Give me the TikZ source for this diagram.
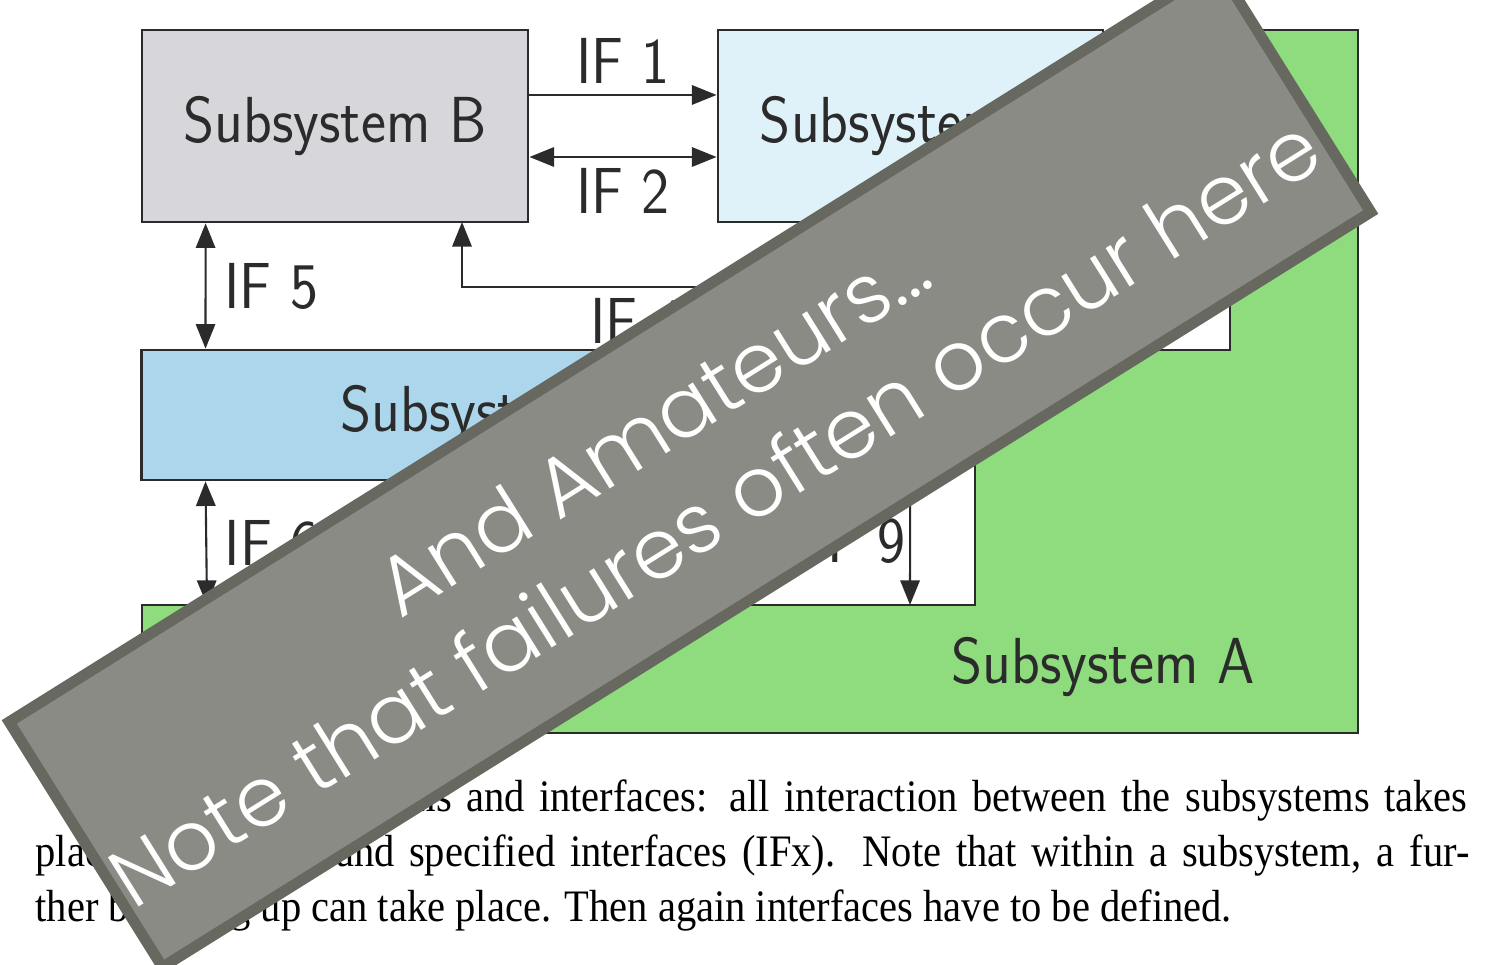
\documentclass[tikz,border=0pt]{standalone}
\usepackage{fontspec}
\usepackage{graphicx}
\newfontfamily\bannerfont{Poppins}[UprightFont={* Light}]
\newfontfamily\captionfont{Liberation Serif}
\definecolor{SubAgreen}{HTML}{8EDC7E}
\definecolor{SubBgray}{HTML}{D6D6DB}
\definecolor{SubCblue}{HTML}{DFF1F9}
\definecolor{SubDblue}{HTML}{ACD6EC}
\definecolor{BannerFill}{HTML}{8A8B85}
\definecolor{BannerEdge}{HTML}{67685F}
\definecolor{LineDark}{HTML}{2B2B2B}
\usetikzlibrary{arrows.meta}
\newcommand{\squeeze}[1]{\scalebox{0.915}[1]{#1}}
\newcommand{\capline}[2]{\scalebox{0.9}[1]{\makebox[#1][s]{#2}}}
\tikzset{
   subsys/.style={draw=LineDark, line width=0.75pt, text=LineDark,
      font=\sffamily\fontsize{18.5}{22}\selectfont},
   iface/.style={draw=LineDark, line width=0.6pt},
   iflabel/.style={text=LineDark, inner sep=3pt,
      font=\sffamily\fontsize{18.5}{22}\selectfont},
   captionline/.style={text=black, inner sep=0pt,
      font=\captionfont\fontsize{12.8}{15}\selectfont},
   bannertext/.style={text=white, rotate=32, anchor=base, inner sep=0pt,
      font=\bannerfont\fontsize{23.6}{30}\selectfont}
}

\begin{document}
\begin{tikzpicture}[x=0.01cm, y=-0.01cm, >={Triangle[length=7pt, width=5.5pt]}]
      \useasboundingbox (0,0) rectangle (1494,965);
      % Subsystem A (stepped outline)
      \filldraw[fill=SubAgreen, draw=LineDark, line width=0.75pt]
         (1230,30) -- (1358,30) -- (1358,733) -- (142,733) -- (142,605)
         -- (975,605) -- (975,350) -- (1230,350) -- cycle;
      \node[subsys, draw=none] (subA) at (1103,667) {\squeeze{Subsystem A}};
      % Subsystems B, C, D
      \node[subsys, fill=SubBgray, minimum width=3.86cm, minimum height=1.92cm]
         (subB) at (335,126) {\squeeze{Subsystem B}};
      \node[subsys, fill=SubCblue, minimum width=3.85cm, minimum height=1.92cm]
         (subC) at (910.5,126) {\squeeze{Subsystem C}};
      \node[subsys, fill=SubDblue, minimum width=7.03cm, minimum height=1.3cm]
         (subD) at (493.5,415) {\squeeze{Subsystem D}};
      % ends on A and B
      \coordinate (aTopD) at (207,605);
      \coordinate (aTopC) at (910,605);
      \coordinate (aSideB) at (1230,287);
      \coordinate (bFoot) at (462,222);
      % IF 1 and IF 2 (B -- C)
      \draw[iface, ->] ([yshift=3.1mm]subB.east) --
         node[iflabel, above] {\squeeze{IF 1}} ([yshift=3.1mm]subC.west);
      \draw[iface, <->] ([yshift=-3.1mm]subB.east) --
         node[iflabel, below] {\squeeze{IF 2}} ([yshift=-3.1mm]subC.west);
      % IF 5 (B -- D), IF 6 (D -- A)
      \draw[iface, <->] ([xshift=6.5mm]subB.south west) --
         node[iflabel, right=2pt] {\squeeze{IF 5}} ([xshift=6.5mm]subD.north west);
      \draw[iface, <->] ([xshift=6.5mm]subD.south west) --
         node[iflabel, right=2pt] {\squeeze{IF 6}} (aTopD);
      % IF 4 (A -> B)
      \draw[iface, ->] (aSideB) -| node[iflabel, below, pos=0.386] {\squeeze{IF 4}} (bFoot);
      % IF 9 (C -> A)
      \draw[iface, ->] (subC.south) --
         node[iflabel, left, inner sep=1pt, pos=0.83] {\squeeze{IF 9}} (aTopC);
      % caption
      \node[captionline, anchor=base east] (capOne) at (1468,812)
         {\capline{13.4cm}{Subsystems and interfaces: all interaction between the subsystems takes}};
      \node[captionline, anchor=base west] (capTwo) at (35,867)
         {\capline{15.92cm}{place via defined and specified interfaces (IFx). Note that within a subsystem, a fur-}};
      \node[captionline, anchor=base west] (capThree) at (35,922)
         {\squeeze{\scalebox{0.984}[1]{ther breaking up can take place. Then again interfaces have to be defined.}}};
      % banner on top
      \node[draw=BannerEdge, fill=BannerFill, line width=3.1pt, rotate=32, inner sep=0pt,
         minimum width=14.24cm, minimum height=2.89cm] (banner) at (690,467) {};
      \node[bannertext] (bannerOne) at (668.8,451.9) {And Amateurs...};
      \node[bannertext] (bannerTwo) at (730.4,537.3) {Note that failures often occur here};
\end{tikzpicture}
\end{document}
